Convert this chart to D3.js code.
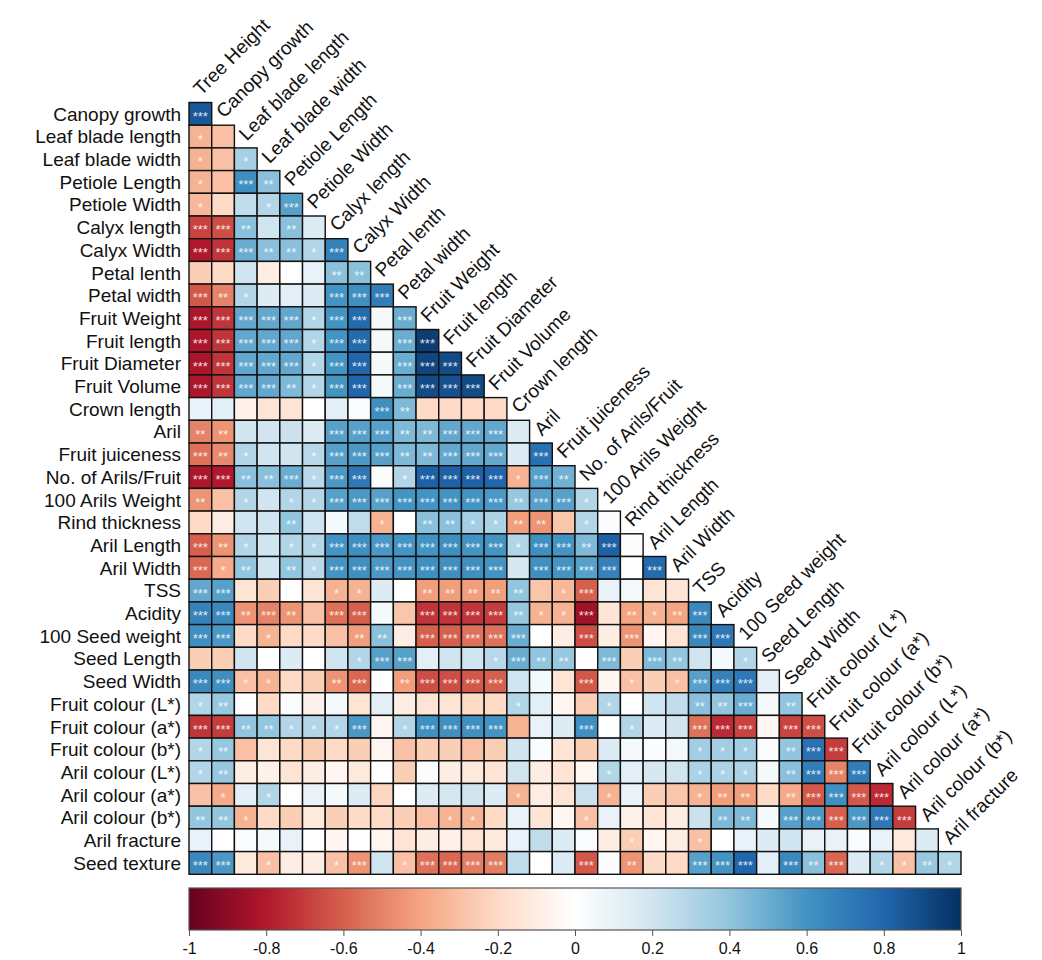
<!DOCTYPE html>
<html>
<head>
<meta charset="utf-8">
<script src="https://cdn.jsdelivr.net/npm/d3@7/dist/d3.min.js"></script>
<style>
  body { margin: 0; background: #fff; }
  text { font-family: "Liberation Sans", Arial, Helvetica, sans-serif; }
</style>
</head>
<body>
<div id="chart"></div>
<script>
// variable names (columns run Tree Height .. Aril fracture, rows Canopy growth .. Seed texture)
const variables = ["Tree Height", "Canopy growth", "Leaf blade length", "Leaf blade width", "Petiole Length",
  "Petiole Width", "Calyx length", "Calyx Width", "Petal lenth", "Petal width", "Fruit Weight", "Fruit length",
  "Fruit Diameter", "Fruit Volume", "Crown length", "Aril", "Fruit juiceness", "No. of Arils/Fruit",
  "100 Arils Weight", "Rind thickness", "Aril Length", "Aril Width", "TSS", "Acidity", "100 Seed weight",
  "Seed Length", "Seed Width", "Fruit colour (L*)", "Fruit colour (a*)", "Fruit colour (b*)",
  "Aril colour (L*)", "Aril colour (a*)", "Aril colour (b*)", "Aril fracture", "Seed texture"];

// correlations, one array per row (lower triangle)
const canopyGrowth = [0.85];
const leafBladeLength = [-0.35, -0.3];
const leafBladeWidth = [-0.35, -0.3, 0.33];
const petioleLength = [-0.35, -0.3, 0.62, 0.42];
const petioleWidth = [-0.33, -0.2, 0.25, 0.3, 0.55];
const calyxLength = [-0.68, -0.65, 0.42, 0.2, 0.42, 0.15];
const calyxWidth = [-0.8, -0.72, 0.5, 0.42, 0.42, 0.3, 0.68];
const petalLenth = [-0.25, -0.2, 0.2, -0.1, 0.0, 0.1, 0.42, 0.42];
const petalWidth = [-0.62, -0.5, 0.3, 0.15, 0.12, 0.15, 0.6, 0.62, 0.7];
const fruitWeight = [-0.82, -0.72, 0.52, 0.52, 0.52, 0.3, 0.6, 0.78, 0.05, 0.5];
const fruitLength = [-0.82, -0.72, 0.52, 0.52, 0.52, 0.3, 0.6, 0.78, 0.05, 0.5, 0.95];
const fruitDiameter = [-0.82, -0.72, 0.52, 0.52, 0.52, 0.3, 0.6, 0.8, 0.05, 0.5, 0.92, 0.9];
const fruitVolume = [-0.82, -0.72, 0.52, 0.52, 0.45, 0.3, 0.6, 0.8, 0.05, 0.5, 0.9, 0.88, 0.9];
const crownLength = [0.1, 0.12, -0.08, -0.15, -0.15, 0.0, 0.12, 0.02, 0.62, 0.45, -0.2, -0.2, -0.2, -0.2];
const aril = [-0.5, -0.45, 0.2, 0.2, 0.22, 0.15, 0.55, 0.55, 0.55, 0.45, 0.45, 0.52, 0.52, 0.52, 0.15];
const fruitJuiceness = [-0.55, -0.48, 0.3, 0.2, 0.2, 0.28, 0.55, 0.58, 0.55, 0.45, 0.45, 0.52, 0.52, 0.52, 0.15, 0.75];
const arilsPerFruit = [-0.82, -0.8, 0.42, 0.42, 0.5, 0.28, 0.58, 0.72, 0.02, 0.3, 0.82, 0.82, 0.82, 0.8, -0.35, 0.55, 0.48];
const arilsWeight100 = [-0.45, -0.3, 0.3, 0.2, 0.3, 0.3, 0.55, 0.58, 0.55, 0.6, 0.6, 0.6, 0.6, 0.58, 0.38, 0.55, 0.55, 0.3];
const rindThickness = [-0.2, -0.1, 0.2, 0.2, 0.4, 0.2, 0.05, 0.25, -0.35, 0.0, 0.42, 0.42, 0.35, 0.32, -0.42, -0.45, -0.28, 0.3, 0.02];
const arilLength = [-0.6, -0.45, 0.3, 0.2, 0.3, 0.3, 0.6, 0.62, 0.58, 0.6, 0.6, 0.62, 0.6, 0.6, 0.3, 0.62, 0.6, 0.45, 0.82, 0.02];
const arilWidth = [-0.58, -0.38, 0.4, 0.2, 0.4, 0.28, 0.6, 0.62, 0.58, 0.6, 0.62, 0.62, 0.62, 0.6, 0.18, 0.62, 0.6, 0.55, 0.68, 0.0, 0.78];
const tss = [0.52, 0.55, -0.15, -0.25, 0.0, -0.15, -0.35, -0.35, 0.15, 0.0, -0.42, -0.42, -0.42, -0.42, 0.4, -0.28, -0.33, -0.6, 0.1, 0.05, -0.15, -0.15];
const acidity = [0.68, 0.65, -0.45, -0.5, -0.45, -0.3, -0.55, -0.6, 0.05, -0.28, -0.72, -0.72, -0.72, -0.7, 0.38, -0.35, -0.35, -0.85, -0.15, -0.4, -0.35, -0.4, 0.65];
const seedWeight100 = [0.62, 0.58, -0.2, -0.35, -0.2, -0.2, -0.3, -0.42, 0.42, -0.1, -0.6, -0.6, -0.55, -0.55, 0.5, 0.0, -0.1, -0.65, -0.1, -0.45, -0.05, -0.15, 0.65, 0.72];
const seedLength = [-0.25, -0.25, 0.2, 0.0, 0.15, 0.0, 0.2, 0.3, 0.55, 0.55, 0.12, 0.2, 0.2, 0.28, 0.5, 0.4, 0.38, 0.0, 0.45, -0.25, 0.45, 0.4, 0.2, 0.05, 0.3];
const seedWidth = [0.65, 0.62, -0.3, -0.35, -0.2, -0.25, -0.45, -0.58, 0.0, -0.42, -0.65, -0.65, -0.62, -0.6, 0.2, 0.05, -0.15, -0.62, -0.05, -0.3, -0.25, -0.3, 0.55, 0.68, 0.72, 0.12];
const fruitColourL = [0.3, 0.38, 0.0, -0.2, 0.02, -0.08, 0.05, -0.15, 0.12, -0.1, -0.15, -0.15, -0.2, -0.2, 0.3, 0.12, -0.05, -0.25, 0.3, 0.0, 0.2, 0.25, 0.42, 0.4, 0.5, 0.05, 0.4];
const fruitColourA = [-0.72, -0.7, 0.4, 0.4, 0.3, 0.3, 0.3, 0.58, -0.05, 0.3, 0.62, 0.62, 0.62, 0.6, -0.35, 0.1, 0.15, 0.62, 0.0, 0.3, 0.15, 0.2, -0.55, -0.75, -0.68, -0.05, -0.68, -0.65];
const fruitColourB = [0.3, 0.38, -0.3, -0.15, -0.2, -0.25, -0.2, -0.25, -0.05, -0.3, -0.25, -0.25, -0.3, -0.25, 0.2, 0.02, -0.15, -0.25, 0.15, 0.05, 0.02, 0.05, 0.35, 0.35, 0.35, 0.02, 0.4, 0.75, -0.7];
const arilColourL = [0.3, 0.38, -0.1, -0.08, -0.15, -0.1, -0.05, -0.12, 0.0, -0.25, 0.02, -0.1, -0.12, -0.15, 0.2, -0.1, -0.15, -0.05, 0.3, 0.12, 0.18, 0.2, 0.32, 0.32, 0.32, 0.05, 0.42, 0.7, -0.5, 0.7];
const arilColourA = [-0.3, -0.38, 0.12, 0.3, 0.0, 0.1, 0.05, 0.15, -0.22, 0.0, 0.15, 0.18, 0.2, 0.15, -0.35, -0.1, -0.15, 0.22, -0.35, 0.1, -0.25, -0.28, -0.35, -0.42, -0.42, -0.2, -0.38, -0.62, 0.62, -0.62, -0.75];
const arilColourB = [0.4, 0.4, -0.35, -0.2, -0.25, -0.12, -0.25, -0.2, -0.2, -0.25, -0.3, -0.35, -0.35, -0.2, 0.1, -0.15, -0.05, -0.3, 0.1, -0.08, -0.15, -0.1, 0.22, 0.45, 0.45, 0.05, 0.55, 0.58, -0.6, 0.58, 0.72, -0.7];
const arilFracture = [0.1, 0.0, 0.02, 0.05, 0.1, 0.0, -0.05, 0.0, -0.05, -0.15, -0.1, -0.08, -0.15, -0.12, 0.1, 0.25, 0.15, 0.02, -0.1, -0.25, -0.05, -0.1, -0.3, 0.0, 0.1, 0.15, 0.2, 0.1, 0.1, 0.02, 0.1, -0.12, 0.15];
const seedTexture = [0.65, 0.58, -0.12, -0.3, -0.1, -0.1, -0.3, -0.45, 0.2, -0.3, -0.55, -0.58, -0.52, -0.52, 0.25, 0.0, 0.15, -0.62, 0.02, -0.45, -0.2, -0.2, 0.55, 0.6, 0.8, 0.12, 0.65, 0.42, -0.58, 0.15, 0.3, -0.3, 0.38, 0.3];

// significance stars per cell (0 = none, 1 = *, 2 = **, 3 = ***), same row order
const sigStars = [
  "3", "10", "101", "1032", "10013", "332020", "3332213", "00000022", "321000333",
  "3333313303", "33333133033", "333331330333", "3333213303333", "00000000320000",
  "220000333223330", "3210013332233303", "33223133013333132", "201011333333332331",
  "0000200010221122010", "32101133333333133230", "312021333333330333303",
  "3300001100222220130000", "33232033003333211302123", "330100022033333003030033",
  "0000000133000132203032001", "33110023023333000301013330", "120000000000001000100022302",
  "3322111301333300030100333033", "12000000000000000000001110233",
  "120000000000000000100011102333", "0101000000000010001000122023333",
  "22100000000110000100000220333333", "000000000000000000010010000000000",
  "3301001301333300030200333032301121"
];

// colour bar ticks
const barTicks = [-1, -0.8, -0.6, -0.4, -0.2, 0, 0.2, 0.4, 0.6, 0.8, 1];
const palette = ["#67001F", "#B2182B", "#D6604D", "#F4A582", "#FDDBC7", "#FFFFFF",
  "#D1E5F0", "#92C5DE", "#4393C3", "#2166AC", "#053061"];

const rowArrays = [canopyGrowth, leafBladeLength, leafBladeWidth, petioleLength, petioleWidth,
  calyxLength, calyxWidth, petalLenth, petalWidth, fruitWeight, fruitLength, fruitDiameter,
  fruitVolume, crownLength, aril, fruitJuiceness, arilsPerFruit, arilsWeight100, rindThickness,
  arilLength, arilWidth, tss, acidity, seedWeight100, seedLength, seedWidth, fruitColourL,
  fruitColourA, fruitColourB, arilColourL, arilColourA, arilColourB, arilFracture, seedTexture];

const colNames = variables.slice(0, variables.length - 1);
const rowNames = variables.slice(1);

const W = 1042, H = 960;
const gridLeft = 189, gridRight = 961, gridTop = 102.5, gridBottom = 874.3;

const svg = d3.select('#chart').append('svg')
  .attr('width', W)
  .attr('height', H);

const x = d3.scaleBand().domain(colNames).range([gridLeft, gridRight]);
const y = d3.scaleBand().domain(rowNames).range([gridTop, gridBottom]);
const color = d3.scaleLinear().domain(barTicks).range(palette).clamp(true);

// flatten to cells
const cells = [];
rowArrays.forEach((vals, i) => {
  vals.forEach((v, j) => {
    cells.push({ row: rowNames[i], col: colNames[j], r: v, sig: +(sigStars[i][j] || 0) });
  });
});

const grid = svg.append('g').attr('class', 'cells');
grid.selectAll('rect')
  .data(cells)
  .enter().append('rect')
  .attr('x', d => x(d.col))
  .attr('y', d => y(d.row))
  .attr('width', x.bandwidth())
  .attr('height', y.bandwidth())
  .style('fill', d => color(d.r))
  .style('stroke', '#111')
  .style('stroke-width', 1.4);

// stars
grid.selectAll('text.sig')
  .data(cells.filter(d => d.sig > 0))
  .enter().append('text')
  .attr('class', 'sig')
  .attr('x', d => x(d.col) + x.bandwidth() / 2)
  .attr('y', d => y(d.row) + y.bandwidth() / 2 + 7)
  .attr('text-anchor', 'middle')
  .style('font-size', '13px')
  .style('fill', '#fff')
  .style('fill-opacity', 0.85)
  .text(d => '*'.repeat(d.sig));

// row labels
svg.append('g').selectAll('text')
  .data(rowNames)
  .enter().append('text')
  .attr('x', gridLeft - 8)
  .attr('y', d => y(d) + y.bandwidth() / 2)
  .attr('dy', '0.36em')
  .attr('text-anchor', 'end')
  .style('font-size', '19px')
  .style('fill', '#111')
  .text(d => d);

// column labels, 45 degrees, starting at the diagonal
const step = y.step();
svg.append('g').selectAll('text')
  .data(colNames)
  .enter().append('text')
  .attr('transform', (d, j) => {
    const cx = x(d) + x.bandwidth() / 2 + 1;
    const cy = gridTop + step * (j - 1) + step / 2 + 5;
    return `translate(${cx},${cy}) rotate(-45)`;
  })
  .attr('text-anchor', 'start')
  .style('font-size', '19px')
  .style('fill', '#111')
  .text(d => d);

// colour bar
const barTop = 888, barH = 42;
const defs = svg.append('defs');
const grad = defs.append('linearGradient').attr('id', 'rdbu')
  .attr('x1', '0%').attr('x2', '100%').attr('y1', '0%').attr('y2', '0%');
grad.selectAll('stop')
  .data(barTicks)
  .enter().append('stop')
  .attr('offset', (d, i) => (i / (barTicks.length - 1) * 100) + '%')
  .attr('stop-color', d => color(d));

const barScale = d3.scaleLinear().domain([-1, 1]).range([gridLeft, gridRight]);
svg.append('rect')
  .attr('x', gridLeft)
  .attr('y', barTop)
  .attr('width', gridRight - gridLeft)
  .attr('height', barH)
  .style('fill', 'url(#rdbu)')
  .style('stroke', '#555')
  .style('stroke-width', 1.2);

const barAxis = svg.append('g')
  .attr('transform', `translate(0,${barTop + barH})`)
  .call(d3.axisBottom(barScale).tickValues(barTicks).tickSize(6)
    .tickFormat(d => String(+d.toFixed(1))));
barAxis.select('.domain').remove();
barAxis.selectAll('line').style('stroke', '#555');
barAxis.selectAll('text')
  .style('font-size', '16px')
  .style('fill', '#111')
  .attr('dy', '0.95em');
</script>
</body>
</html>
